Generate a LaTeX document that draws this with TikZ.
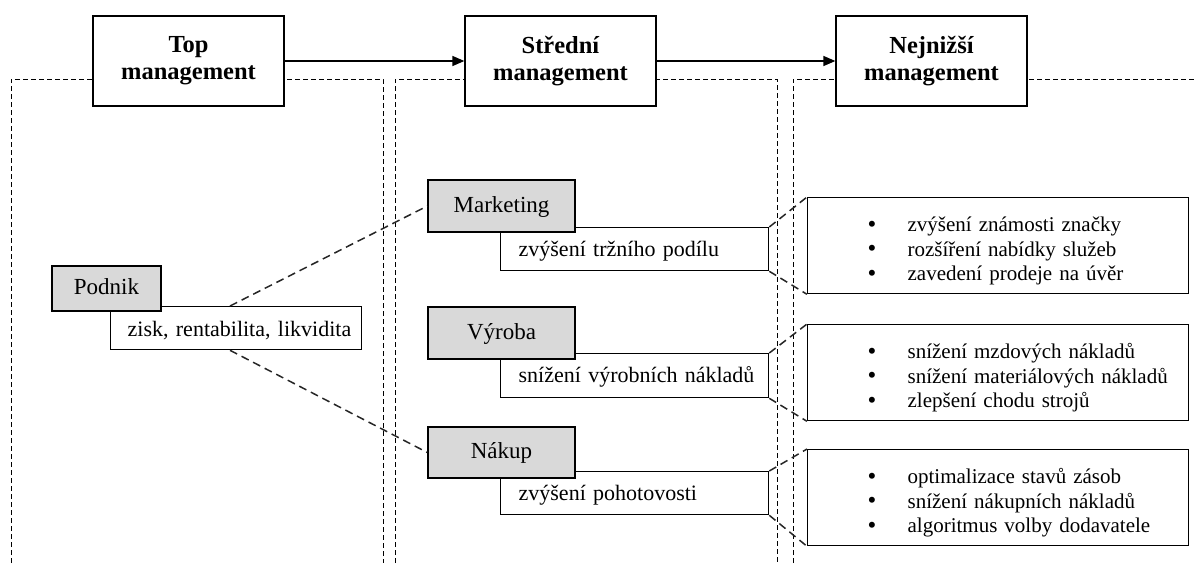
\documentclass[tikz,border=0pt]{standalone}
\usepackage{fontspec}
\setmainfont{Liberation Serif}
\usetikzlibrary{arrows.meta,calc}

\newcommand{\txtreg}{\fontsize{22}{24.5}\selectfont}
\newcommand{\txtunit}{\fontsize{23}{25}\selectfont}
\newcommand{\txtlist}{\fontsize{21}{24.5}\selectfont}
\newcommand{\txthead}{\fontsize{24.5}{27}\selectfont\bfseries}
\newcommand{\liststrut}{\rule[-5pt]{0pt}{19.5pt}}
\newcommand{\firststrut}{\rule{0pt}{26pt}}
\newcommand{\itm}[1]{\liststrut\hspace*{60pt}\makebox[40pt][l]{\raisebox{-0.5pt}{\fontsize{25}{25}\selectfont\textbullet}}#1}

\tikzset{
  region/.style={draw=black, line width=0.9pt, dash pattern=on 5pt off 3pt},
  conn/.style={draw=black!85, line width=1.5pt, dash pattern=on 8pt off 5pt},
  flow/.style={draw=black, line width=1.5pt, -{Triangle[length=12pt,width=10pt]}},
  headbox/.style={draw=black, line width=1.3pt, fill=white, minimum width=191pt,
    minimum height=90pt, inner sep=0pt, align=center, font=\txthead},
  unitbox/.style={draw=black, line width=1.3pt, fill=black!15, minimum width=147pt,
    minimum height=52pt, inner sep=0pt, text height=16pt, text depth=4pt, font=\txtunit},
  goalbox/.style={draw=black, line width=1.3pt, fill=white, minimum width=268pt,
    minimum height=43pt, inner sep=0pt, text width=268pt, text height=17pt, text depth=3pt,
    align=left, anchor=north west, font=\txtreg},
  listbox/.style={draw=black, line width=1.3pt, fill=white, minimum height=96pt,
    inner sep=0pt, text width=381pt, align=left,
    anchor=north west, font=\txtlist}
}

\begin{document}
\begin{tikzpicture}[x=1pt,y=-1pt]
\useasboundingbox (0,0) rectangle (1196,563);

% level columns
\draw[region] (11,563) -- (11,79) -- (383,79) -- (383,563);
\draw[region] (395,563) -- (395,79) -- (777,79) -- (777,563);
\draw[region] (793,563) -- (793,79) -- (1196,79);

% management levels
\node[headbox] (top) at (188.5,61) {Top\\management};
\node[headbox] (mid) at (560.5,61) {Střední\\management};
\node[headbox] (low) at (931.5,61) {Nejnižší\\management};
\draw[flow] (top.east) -- (mid.west);
\draw[flow] (mid.east) -- (low.west);

% company level
\node[goalbox, minimum width=251pt, text width=251pt, text height=18pt, text depth=2pt]
  (zisk) at (110,306) {\hspace*{17pt}zisk, rentabilita, likvidita};
\node[unitbox, minimum width=109pt, minimum height=45pt] (podnik) at (106.5,288.5) {Podnik};

% departments
\node[goalbox] (mktsub) at (500,227) {\hspace*{18pt}zvýšení tržního podílu};
\node[unitbox] (mkt) at (501.5,206) {Marketing};
\node[goalbox, minimum height=44pt] (vyrsub) at (500,353) {\hspace*{18pt}snížení výrobních nákladů};
\node[unitbox] (vyr) at (501.5,333) {Výroba};
\node[goalbox] (naksub) at (500,471) {\hspace*{18pt}zvýšení pohotovosti};
\node[unitbox, minimum height=51pt] (nak) at (501.5,452.5) {Nákup};

% operational measures
\node[listbox] (l1) at (807,197) {\firststrut\itm{zvýšení známosti značky}\\
  \itm{rozšíření nabídky služeb}\\
  \itm{zavedení prodeje na úvěr}};
\node[listbox] (l2) at (807,324) {\firststrut\itm{snížení mzdových nákladů}\\
  \itm{snížení materiálových nákladů}\\
  \itm{zlepšení chodu strojů}};
\node[listbox] (l3) at (807,449) {\firststrut\itm{optimalizace stavů zásob}\\
  \itm{snížení nákupních nákladů}\\
  \itm{algoritmus volby dodavatele}};

% links between levels
\draw[conn] ([xshift=120pt]zisk.north west) -- (mkt.west);
\draw[conn] ([xshift=120pt]zisk.south west) -- (nak.west);
\draw[conn] (mktsub.north east) -- (l1.north west);
\draw[conn] (mktsub.south east) -- (l1.south west);
\draw[conn] (vyrsub.north east) -- (l2.north west);
\draw[conn] (vyrsub.south east) -- (l2.south west);
\draw[conn] (naksub.north east) -- (l3.north west);
\draw[conn] (naksub.south east) -- (l3.south west);
\end{tikzpicture}
\end{document}
